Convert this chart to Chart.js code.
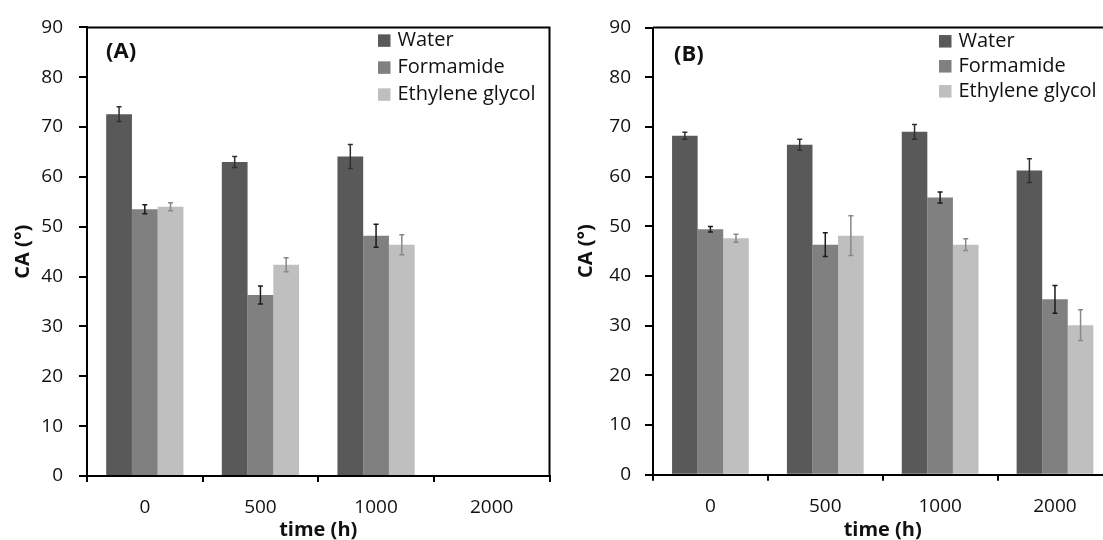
<!DOCTYPE html>
<html>
<head>
<meta charset="utf-8">
<script src="https://cdn.jsdelivr.net/npm/chart.js@4"></script>
<style>
  html, body { margin: 0; padding: 0; background: #fff; overflow: hidden; }
  body { width: 1103px; height: 540px; position: relative; }
  .panel { position: absolute; top: 0; height: 540px; }
  #panelA { left: 0; }
  #panelB { left: 560px; }
</style>
</head>
<body>
<div class="panel" id="panelA"><canvas id="chartA" width="560" height="540"></canvas></div>
<div class="panel" id="panelB"><canvas id="chartB" width="563" height="540"></canvas></div>
<script>
const timeLabels = ['0', '500', '1000', '2000'];
const seriesNames = ['Water', 'Formamide', 'Ethylene glycol'];
const barColors = ['#595959', '#808080', '#bfbfbf'];
const errColors = ['#303030', '#1a1a1a', '#888888'];

// contact angles, panel A (nothing measured at 2000 h)
const waterA = [72.6, 63.0, 64.1, null];
const formamideA = [53.5, 36.3, 48.2, null];
const glycolA = [54.0, 42.4, 46.4, null];
const waterErrA = [1.5, 1.1, 2.4, null];
const formamideErrA = [0.9, 1.8, 2.3, null];
const glycolErrA = [0.8, 1.4, 2.0, null];

// contact angles, panel B
const waterB = [68.2, 66.4, 69.0, 61.2];
const formamideB = [49.4, 46.3, 55.8, 35.3];
const glycolB = [47.6, 48.1, 46.3, 30.1];
const waterErrB = [0.7, 1.1, 1.5, 2.4];
const formamideErrB = [0.55, 2.4, 1.1, 2.8];
const glycolErrB = [0.8, 4.0, 1.2, 3.1];

const FONT = '"Open Sans"';
const TEXT = '#111';

// vertical error bars with small caps, read from dataset.errors
const errorBars = {
  id: 'errorBars',
  afterDatasetsDraw(chart) {
    const ctx = chart.ctx;
    const y = chart.scales.y;
    chart.data.datasets.forEach((ds, i) => {
      const meta = chart.getDatasetMeta(i);
      meta.data.forEach((bar, j) => {
        const v = ds.data[j], e = ds.errors[j];
        if (v == null || e == null) return;
        const top = y.getPixelForValue(v + e);
        const bot = y.getPixelForValue(v - e);
        ctx.save();
        ctx.strokeStyle = ds.errorColor;
        ctx.lineWidth = 1.5;
        ctx.beginPath();
        ctx.moveTo(bar.x, top); ctx.lineTo(bar.x, bot);
        ctx.moveTo(bar.x - 2.5, top); ctx.lineTo(bar.x + 2.5, top);
        ctx.moveTo(bar.x - 2.5, bot); ctx.lineTo(bar.x + 2.5, bot);
        ctx.stroke();
        ctx.restore();
      });
    });
  }
};

// top and right edges of the plot box
const frame = {
  id: 'frame',
  afterDraw(chart) {
    const {left, right, top, bottom} = chart.chartArea;
    const ctx = chart.ctx;
    ctx.save();
    ctx.strokeStyle = '#000';
    ctx.lineWidth = 2;
    ctx.beginPath();
    ctx.moveTo(left, top); ctx.lineTo(right, top); ctx.lineTo(right, bottom);
    ctx.stroke();
    ctx.restore();
  }
};

// legend drawn inside the plot, top right
const boxLegend = {
  id: 'boxLegend',
  afterDraw(chart, args, opts) {
    const ctx = chart.ctx;
    ctx.save();
    ctx.font = `${opts.size}px ${FONT}`;
    ctx.textBaseline = 'middle';
    chart.data.datasets.forEach((ds, i) => {
      const cy = opts.y + i * opts.gap;
      ctx.fillStyle = ds.backgroundColor;
      ctx.fillRect(opts.x, cy - 6.25, 12.5, 12.5);
      ctx.fillStyle = TEXT;
      ctx.fillText(ds.label, opts.x + 19.5, cy);
    });
    ctx.restore();
  }
};

const panelTag = {
  id: 'panelTag',
  afterDraw(chart, args, opts) {
    const ctx = chart.ctx;
    ctx.save();
    ctx.font = `bold ${opts.size}px ${FONT}`;
    ctx.fillStyle = TEXT;
    ctx.textBaseline = 'middle';
    ctx.fillText(opts.text, opts.x, opts.y);
    ctx.restore();
  }
};

function makeChart(id, tag, values, errors, lay) {
  return new Chart(document.getElementById(id), {
    type: 'bar',
    data: {
      labels: timeLabels,
      datasets: seriesNames.map((name, i) => ({
        label: name,
        data: values[i],
        errors: errors[i],
        errorColor: errColors[i],
        backgroundColor: barColors[i],
        borderWidth: 0,
        categoryPercentage: 0.668,
        barPercentage: 1.0
      }))
    },
    options: {
      responsive: false,
      animation: false,
      layout: { padding: { left: 0, right: lay.padRight, top: lay.padTop, bottom: 0 } },
      plugins: {
        legend: { display: false },
        tooltip: { enabled: false },
        boxLegend: lay.legend,
        panelTag: { text: tag, x: lay.tagX, y: lay.tagY, size: 22 }
      },
      scales: {
        x: {
          grid: { offset: true, drawOnChartArea: false, drawTicks: true, tickLength: 6, color: '#000', lineWidth: 2 },
          border: { color: '#000', width: 2 },
          ticks: { color: TEXT, font: { family: FONT, size: 19 }, padding: 14, maxRotation: 0 },
          title: { display: true, text: 'time (h)', color: TEXT, font: { family: FONT, size: 20, weight: 'bold', lineHeight: 1 }, padding: 0 },
          afterFit: s => { s.height = lay.xAxisHeight; }
        },
        y: {
          min: 0,
          max: 90,
          ticks: { stepSize: 10, color: TEXT, font: { family: FONT, size: 19 }, padding: lay.yTickPad },
          grid: { drawOnChartArea: false, drawTicks: true, tickLength: 8, color: '#000', lineWidth: 2 },
          border: { color: '#000', width: 2 },
          title: { display: true, text: 'CA (°)', color: TEXT, font: { family: FONT, size: 20, weight: 'bold', lineHeight: 1 }, padding: { top: lay.yTitlePad, bottom: 0 } },
          afterFit: s => { s.width = lay.yAxisWidth; }
        }
      }
    },
    plugins: [errorBars, frame, boxLegend, panelTag]
  });
}

makeChart('chartA', '(A)',
  [waterA, formamideA, glycolA],
  [waterErrA, formamideErrA, glycolErrA],
  { padRight: 10.5, padTop: 25, xAxisHeight: 64, yAxisWidth: 87, yTickPad: 16, yTitlePad: 13,
    tagX: 106, tagY: 52, legend: { x: 378, y: 40.6, gap: 27, size: 20 } });

makeChart('chartB', '(B)',
  [waterB, formamideB, glycolB],
  [waterErrB, formamideErrB, glycolErrB],
  { padRight: 10.6, padTop: 27.5, xAxisHeight: 65.3, yAxisWidth: 93, yTickPad: 14, yTitlePad: 16,
    tagX: 114, tagY: 55, legend: { x: 379, y: 41.3, gap: 25, size: 20 } });
</script>
</body>
</html>
